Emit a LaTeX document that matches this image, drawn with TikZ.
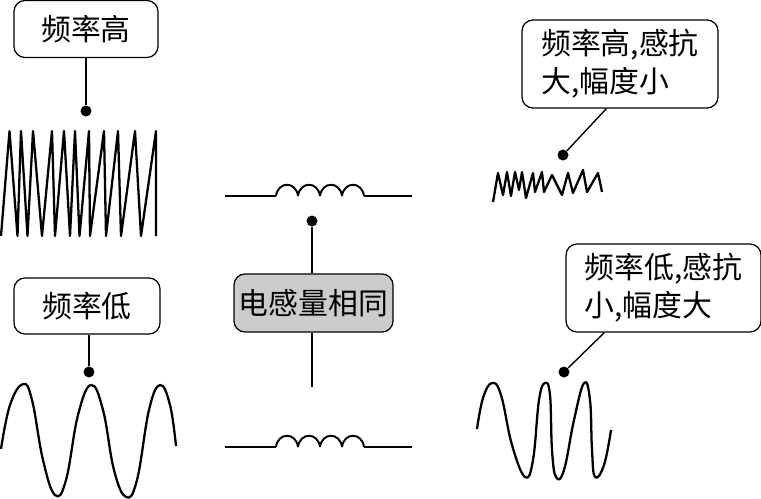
\documentclass[tikz,border=0pt]{standalone}
\usepackage{fontspec}
\setmainfont{Noto Sans CJK SC}
\usepackage{tikz}
\tikzset{
  lbl/.style={draw=black,line width=0.7pt,rounded corners=0.22cm,fill=white,inner sep=0pt,align=left,font=\fontsize{17}{21.5}\selectfont},
  spot/.style={circle,fill=black,inner sep=0pt,minimum size=0.22cm},
  wire/.style={black,line width=0.8pt},
  wave/.style={black,line width=1.3pt,line join=round}
}
\begin{document}
\begin{tikzpicture}[x=0.02cm,y=-0.02cm]
\useasboundingbox (0,0) rectangle (761,498);
% labels
\node[lbl,minimum width=2.88cm,minimum height=1.14cm] (lblhigh) at (86,29) {频率高};
\node[lbl,minimum width=2.92cm,minimum height=1.12cm] (lbllow) at (87,306) {频率低};
\node[lbl,minimum width=3.92cm,minimum height=1.76cm] (lblhighL) at (620,64) {频率高,感抗\\大,幅度小};
\node[lbl,minimum width=3.9cm,minimum height=1.76cm] (lbllowL) at (663.5,288) {频率低,感抗\\小,幅度大};
\node[lbl,fill=black!20,minimum width=3.18cm,minimum height=1.16cm] (lblsame) at (313.5,303) {电感量相同};
% dots
\node[spot] (dothigh) at (86,111) {};
\node[spot] (dotlow) at (89,372) {};
\node[spot] (dothighL) at (563,155) {};
\node[spot] (dotlowL) at (564,372) {};
\node[spot] (dotcoil) at (312,221) {};
\coordinate (endcoil) at (312,387);
% connectors
\draw[wire] (lblhigh) -- (dothigh);
\draw[wire] (lbllow.south -| dotlow) -- (dotlow);
\draw[wire] (lblhighL.253) -- (dothighL);
\draw[wire] (lbllowL.217) -- (dotlowL);
\draw[wire] (lblsame.north -| dotcoil) -- (dotcoil);
\draw[wire] (lblsame.south -| endcoil) -- (endcoil);
% inductors
\foreach \yc in {196,447} {
  \draw[wire] (225,\yc) -- (276,\yc);
  \draw[wire] (364,\yc) -- (412,\yc);
  \foreach \xc in {276,298,320,342} {
    \draw[black,line width=1.1pt] (\xc,\yc) .. controls (\xc+2,\yc-15) and (\xc+20,\yc-15) .. (\xc+22,\yc);
  }
}
% fast wave, large
\draw[wave] (1,236) -- (9.5,131) -- (17.5,236) -- (21,131) -- (27.5,236) -- (33,131) -- (42,236) -- (52,131) -- (55,236) -- (64,131) -- (70,236) -- (75,131) -- (79.5,236) -- (89,131) -- (90,236) -- (104,131) -- (106,236) -- (118,131) -- (121,236) -- (135,131) -- (141,236) -- (156,131) -- (156,236);
% fast wave, small
\draw[wave] (493,202) -- (498,173) -- (503,195) -- (507,172) -- (511,196) -- (515,172) -- (519,190) -- (522,172) -- (526,198) -- (533,173) -- (535,192) -- (542,172) -- (544,192) -- (552,175) -- (562,195) -- (568,173) -- (573,193) -- (583,170) -- (587,192) -- (598,173) -- (602,192);
% slow wave, large
\draw[wave] plot[smooth,tension=0.7] coordinates {(1,449) (10,405) (23,384) (32,400) (43,460) (55,495) (66,480) (78,415) (91,385) (103,410) (114,470) (126,497) (137,480) (149,410) (160,385) (170,405) (176,446)};
% slow wave, small
\draw[wave] plot[smooth,tension=0.7] coordinates {(477,429) (483,398) (492,383) (501,395) (512,445) (525,477) (533,460) (539,400) (545,383) (550,395) (552,450) (556,477) (564,470) (574,420) (584,383) (590,400) (592,450) (595,477) (604,465) (611,430)};
\end{tikzpicture}
\end{document}
